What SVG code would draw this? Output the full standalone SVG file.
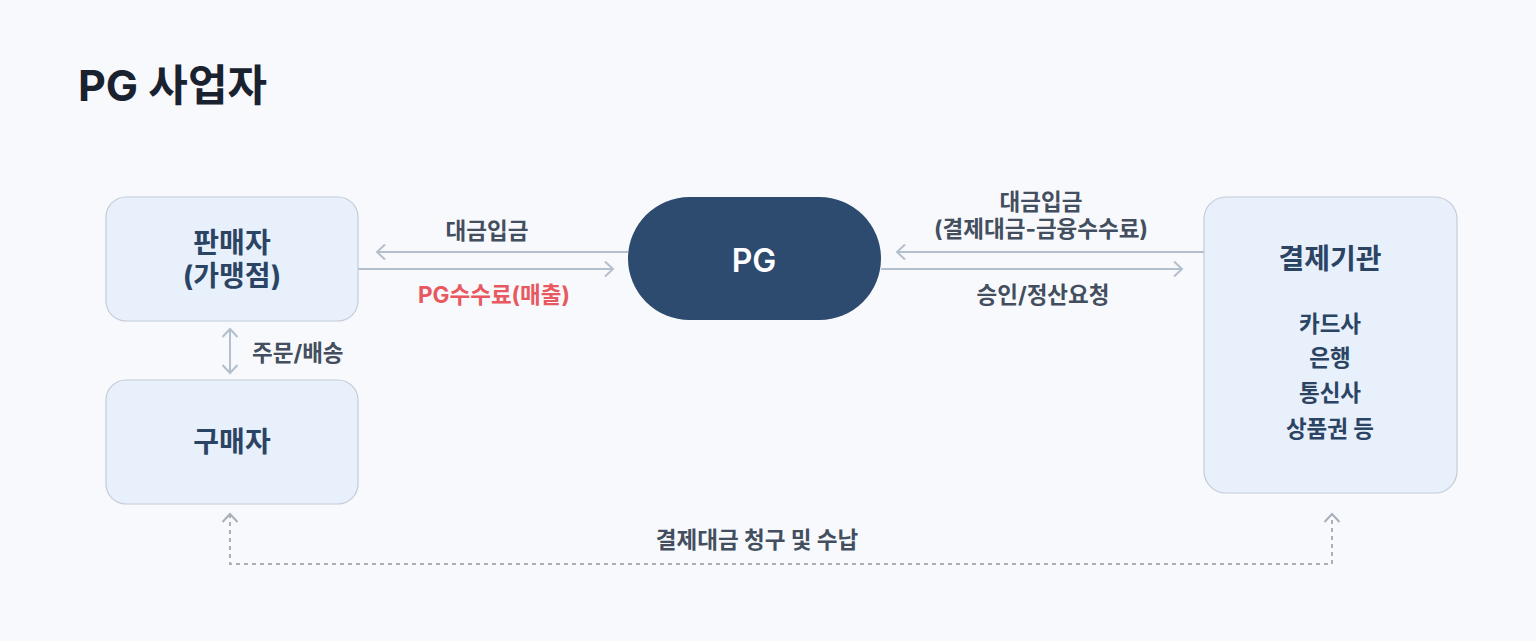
<svg xmlns="http://www.w3.org/2000/svg" width="1536" height="641" viewBox="0 0 1536 641">
  <defs>
    <style>
      text { font-family: "Inter", "Noto Sans CJK KR", sans-serif; }
      .box { fill: #e7f0fb; stroke: #c3ccd7; stroke-width: 1.2; }
      .ntitle { font-size: 28px; font-weight: 700; fill: #2c4464; text-anchor: middle; }
      .nitem { font-size: 22.5px; font-weight: 700; fill: #2c4464; text-anchor: middle; }
      .lbl { font-size: 22.5px; font-weight: 700; fill: #434e5e; text-anchor: middle; }
      .red { fill: #e8585f; }
      .conn { fill: none; stroke: #b3bfcd; stroke-width: 2; }
      .dash { fill: none; stroke: #a9b0ba; stroke-width: 2; stroke-dasharray: 4 4; }
    </style>
    <marker id="chev" viewBox="0 0 12 18" refX="10" refY="9" markerWidth="12" markerHeight="18" markerUnits="userSpaceOnUse" orient="auto-start-reverse">
      <path d="M2,1.5 L10,9 L2,16.5" fill="none" stroke="#b3bfcd" stroke-width="2"/>
    </marker>
    <marker id="chevd" viewBox="0 0 12 18" refX="10" refY="9" markerWidth="12" markerHeight="18" markerUnits="userSpaceOnUse" orient="auto-start-reverse">
      <path d="M2,1.5 L10,9 L2,16.5" fill="none" stroke="#a9b0ba" stroke-width="2"/>
    </marker>
  </defs>

  <rect x="0" y="0" width="1536" height="641" fill="#f7f9fc"/>

  <text x="78" y="101" font-size="43" font-weight="700" fill="#1a2230">PG 사업자</text>

  <g id="connectors">
    <line class="conn" x1="628" y1="252" x2="377" y2="252" marker-end="url(#chev)"/>
    <line class="conn" x1="358" y1="269" x2="613" y2="269" marker-end="url(#chev)"/>
    <line class="conn" x1="1204" y1="252" x2="897" y2="252" marker-end="url(#chev)"/>
    <line class="conn" x1="881" y1="269" x2="1182" y2="269" marker-end="url(#chev)"/>
    <line class="conn" x1="230" y1="329" x2="230" y2="373" marker-start="url(#chev)" marker-end="url(#chev)"/>
    <path class="dash" d="M230,514 V564 H1332 V514" marker-start="url(#chevd)" marker-end="url(#chevd)"/>
    <text class="lbl" x="487" y="239">대금입금</text>
    <text class="lbl red" x="494" y="303">PG수수료(매출)</text>
    <text class="lbl" x="1041" y="210">대금입금</text>
    <text class="lbl" x="1041" y="237">(결제대금-금융수수료)</text>
    <text class="lbl" x="1043" y="303">승인/정산요청</text>
    <text class="lbl" x="252" y="361" style="text-anchor:start">주문/배송</text>
    <text class="lbl" x="757" y="548">결제대금 청구 및 수납</text>
  </g>

  <g id="seller">
    <rect class="box" x="106" y="197" width="252" height="124" rx="20"/>
    <text class="ntitle" x="232" y="253">판매자</text>
    <text class="ntitle" x="232" y="286">(가맹점)</text>
  </g>

  <g id="buyer">
    <rect class="box" x="106" y="380" width="252" height="124" rx="20"/>
    <text class="ntitle" x="232" y="452">구매자</text>
  </g>

  <g id="pg">
    <rect x="628" y="197" width="253" height="123" rx="61.5" fill="#2d4a6f"/>
    <text x="754" y="272" font-size="32" font-weight="600" fill="#ffffff" text-anchor="middle">PG</text>
  </g>

  <g id="institution">
    <rect class="box" x="1204" y="197" width="253" height="296" rx="22"/>
    <text class="ntitle" x="1330" y="269">결제기관</text>
    <text class="nitem" x="1330" y="332">카드사</text>
    <text class="nitem" x="1330" y="366">은행</text>
    <text class="nitem" x="1330" y="401">통신사</text>
    <text class="nitem" x="1330" y="437">상품권 등</text>
  </g>
</svg>
